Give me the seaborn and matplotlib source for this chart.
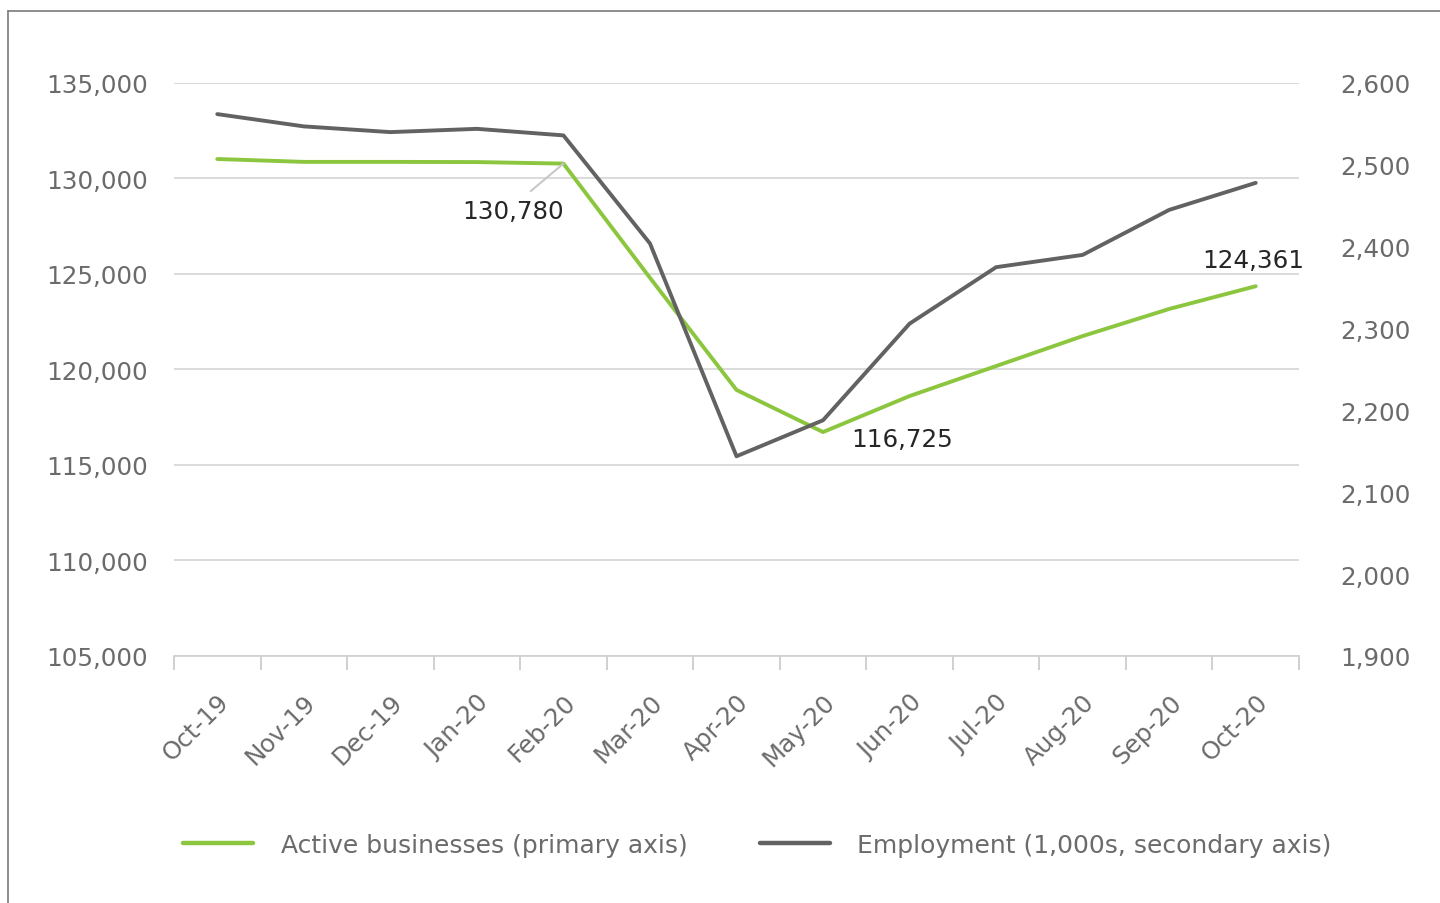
import numpy as np
import pandas as pd
import matplotlib
matplotlib.use('Agg')
import matplotlib.pyplot as plt
import seaborn as sns
from matplotlib.lines import Line2D

# ── Data ──────────────────────────────────────────────────────
months = ['Oct-19', 'Nov-19', 'Dec-19', 'Jan-20', 'Feb-20', 'Mar-20', 'Apr-20',
          'May-20', 'Jun-20', 'Jul-20', 'Aug-20', 'Sep-20', 'Oct-20']
active_businesses = [131020, 130870, 130870, 130860, 130780, 124800, 118930,
                     116725, 118610, 120180, 121750, 123170, 124361]
employment = [2562, 2547, 2540, 2544, 2536, 2404, 2144,
              2188, 2306, 2375, 2390, 2445, 2478]
left_ticks = [105000, 110000, 115000, 120000, 125000, 130000, 135000]
right_ticks = [1900, 2000, 2100, 2200, 2300, 2400, 2500, 2600]

GREEN = '#8cc63e'
GREY = '#626262'
TICK_C = '#6b6b6b'
FS = 17.7

df = pd.DataFrame({'idx': range(len(months)), 'month': months,
                   'active': active_businesses, 'emp': employment})

sns.set_theme(style='white')
plt.rcParams['font.family'] = ['DejaVu Sans']

fig = plt.figure(figsize=(14.4, 9.04), dpi=100)
ax = fig.add_axes([174/1440, 1-657/904, (1299-174)/1440, (657-84)/904])
ax2 = ax.twinx()

sns.lineplot(data=df, x='idx', y='active', ax=ax, color=GREEN, linewidth=2.8, zorder=3)
sns.lineplot(data=df, x='idx', y='emp', ax=ax2, color=GREY, linewidth=2.8, zorder=3)

ax.set_xlim(-0.5, len(months) - 0.5)
ax.set_ylim(left_ticks[0], left_ticks[-1])
ax2.set_ylim(right_ticks[0], right_ticks[-1])

ax.set_yticks(left_ticks)
ax.set_yticklabels([f'{v:,}' for v in left_ticks])
ax2.set_yticks(right_ticks)
ax2.set_yticklabels([f'{v:,}' for v in right_ticks])

ax.set_xticks(range(len(months)))
ax.set_xticklabels(months, rotation=45, ha='right', rotation_mode='anchor')
ax.set_xticks(np.arange(-0.5, len(months)), minor=True)
ax.tick_params(axis='x', which='major', bottom=True, length=0, pad=24,
               labelsize=FS, labelcolor=TICK_C)
ax.tick_params(axis='x', which='minor', bottom=True, length=10, width=1.2,
               color='#c8c8c8', direction='out')
ax.tick_params(axis='y', length=0, pad=19, labelsize=FS, labelcolor=TICK_C)
ax2.tick_params(axis='y', length=0, pad=30, labelsize=FS, labelcolor=TICK_C)
for t in ax2.get_yticklabels():
    t.set_horizontalalignment('left')

ax.grid(axis='y', color='#d4d4d4', linewidth=1.2)
ax.grid(axis='x', visible=False)
ax.set_xlabel(''); ax.set_ylabel(''); ax2.set_ylabel('')
for a in (ax, ax2):
    for s in ['top', 'right', 'left', 'bottom']:
        a.spines[s].set_visible(False)
ax.spines['bottom'].set_visible(True)
ax.spines['bottom'].set_color('#d0d0d0')
ax.spines['bottom'].set_linewidth(1.2)

# ── Annotations ───────────────────────────────────────────────
lab_kw = dict(fontsize=FS, color='#262626', ha='center', va='center')
ax.annotate(f'{active_businesses[4]:,}', xy=(4, active_businesses[4]),
            xytext=(-36, -34), textcoords='offset points', **lab_kw,
            arrowprops=dict(arrowstyle='-', color='#c8c8c8', lw=1.5,
                            relpos=(0.58, 1.0), shrinkA=5, shrinkB=0))
ax.annotate(f'{active_businesses[7]:,}', xy=(7, active_businesses[7]),
            xytext=(57, -5), textcoords='offset points', **lab_kw)
ax.annotate(f'{active_businesses[12]:,}', xy=(12, active_businesses[12]),
            xytext=(-2, 19), textcoords='offset points', **lab_kw)

# ── Legend ────────────────────────────────────────────────────
handles = [Line2D([], [], color=GREEN, lw=3.2), Line2D([], [], color=GREY, lw=3.2)]
fig.legend(handles, ['Active businesses (primary axis)', 'Employment (1,000s, secondary axis)'],
           loc='center', bbox_to_anchor=(0.526, 1-846/904), ncol=2, frameon=False,
           fontsize=18, labelcolor=TICK_C, handlelength=2.8, handletextpad=1.1,
           columnspacing=2.9)

# outer frame (left and top edges visible)
fig.add_artist(Line2D([8/1440, 8/1440], [0, 1-12/904], color='#7a7a7a', lw=1.2))
fig.add_artist(Line2D([8/1440, 1], [1-12/904, 1-12/904], color='#7a7a7a', lw=1.2))

fig.savefig('out.png', dpi=100)
